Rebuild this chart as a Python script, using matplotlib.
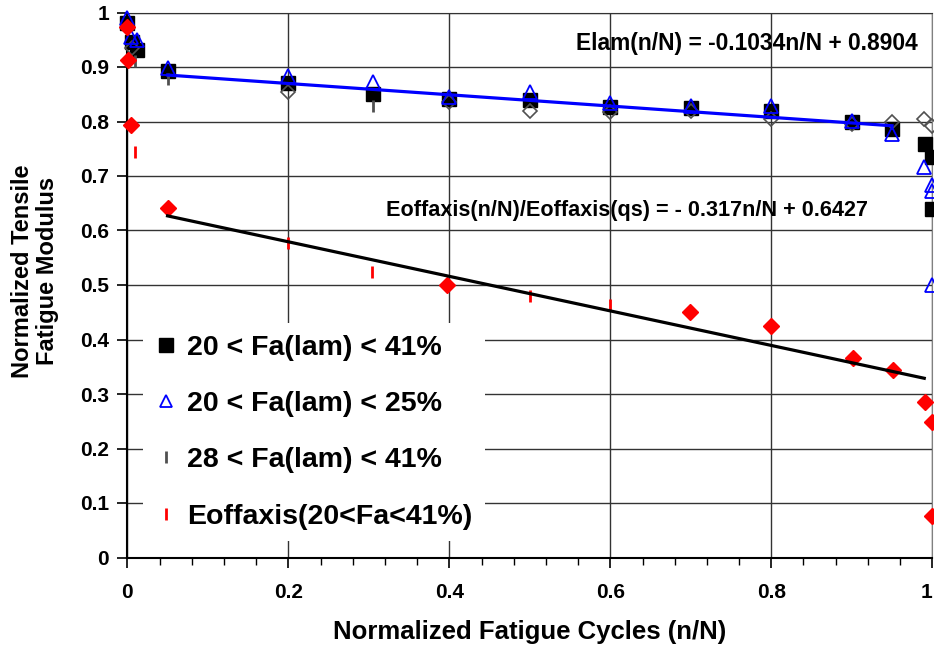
import matplotlib
matplotlib.use('Agg')
import matplotlib.pyplot as plt
import numpy as np
from matplotlib.ticker import MultipleLocator
from matplotlib.transforms import offset_copy

plt.rcParams['font.family'] = ['Liberation Sans', 'DejaVu Sans']
plt.rcParams['font.weight'] = 'bold'

# 20 < Fa(lam) < 41%  (black squares)
sq_x = [0.0, 0.006, 0.012, 0.05, 0.2, 0.305, 0.4, 0.5, 0.6, 0.7, 0.8, 0.9, 0.95, 0.991, 1.0, 1.0]
sq_y = [0.981, 0.946, 0.931, 0.893, 0.870, 0.850, 0.841, 0.839, 0.827, 0.825, 0.819, 0.799, 0.786, 0.759, 0.735, 0.640]

# 20 < Fa(lam) < 25%  (open blue triangles)
tri_x = [0.0, 0.005, 0.012, 0.05, 0.2, 0.305, 0.4, 0.5, 0.6, 0.7, 0.8, 0.9, 0.95, 0.99, 1.0, 1.0, 1.0]
tri_y = [0.99, 0.955, 0.95, 0.898, 0.883, 0.872, 0.845, 0.854, 0.834, 0.829, 0.829, 0.801, 0.777, 0.717, 0.683, 0.672, 0.5]

# open gray diamonds (no legend entry)
dia_x = [0.006, 0.2, 0.4, 0.5, 0.6, 0.7, 0.8, 0.9, 0.95, 0.99, 1.0]
dia_y = [0.935, 0.855, 0.836, 0.819, 0.817, 0.82, 0.805, 0.795, 0.80, 0.805, 0.792]

# 28 < Fa(lam) < 41%  (gray bars)
gb_x = [0.01, 0.05, 0.305]
gb_y = [0.911, 0.878, 0.828]

# off-axis modulus, red diamonds (no legend entry)
rd_x = [0.0, 0.001, 0.005, 0.05, 0.397, 0.699, 0.8, 0.901, 0.951, 0.991, 1.0, 1.0]
rd_y = [0.973, 0.913, 0.794, 0.641, 0.5, 0.45, 0.425, 0.366, 0.344, 0.285, 0.249, 0.076]

# Eoffaxis(20<Fa<41%)  (red bars)
rb_x = [0.01, 0.2, 0.304, 0.5, 0.6]
rb_y = [0.744, 0.577, 0.524, 0.48, 0.463]

# linear fits: slope, intercept, x from, x to
lam_fit = (-0.1034, 0.8904, 0.05, 0.95)
off_fit = (-0.317, 0.6427, 0.05, 0.99)

fig = plt.figure(figsize=(9.34, 6.49), dpi=100)
ax = fig.add_axes([127.3 / 934, 1 - 557.5 / 649, 805 / 934, 545 / 649])

ax.plot(sq_x, sq_y, 's', color='black', ms=10, clip_on=False, zorder=3)
ax.plot(dia_x, dia_y, 'D', mfc='none', mec='#505050', ms=7, mew=1.2, clip_on=False, zorder=4)
ax.plot(tri_x, tri_y, '^', mfc='none', mec='#0000ff', ms=9.5, mew=1.3, clip_on=False, zorder=5)
ax.plot(gb_x, gb_y, '|', color='#505050', ms=9, mew=2, clip_on=False, zorder=4)
ax.plot(rd_x, rd_y, 'D', color='#ff0000', ms=8.5, clip_on=False, zorder=6)
ax.plot(rb_x, rb_y, '|', color='#ff0000', ms=9, mew=2, clip_on=False, zorder=6)

for (m, b, x0, x1), c in [(lam_fit, '#0000ff'), (off_fit, 'black')]:
    xs = np.array([x0, x1])
    ax.plot(xs, m * xs + b, color=c, lw=2.3, zorder=7)

ax.text(0.982, 0.944, 'Elam(n/N) = -0.1034n/N + 0.8904', ha='right', va='center',
        fontsize=16.4, fontweight='bold', zorder=8)
ax.text(0.92, 0.636, 'Eoffaxis(n/N)/Eoffaxis(qs) = - 0.317n/N + 0.6427', ha='right', va='center',
        fontsize=15.6, fontweight='bold', zorder=8)

ax.set_xlim(0, 1)
ax.set_ylim(0, 1)
ax.xaxis.set_major_locator(MultipleLocator(0.2))
ax.xaxis.set_minor_locator(MultipleLocator(0.04))
ax.yaxis.set_major_locator(MultipleLocator(0.1))
# the "1" at the right end is drawn separately so it stays inside the picture
ax.xaxis.set_major_formatter(plt.FuncFormatter(lambda v, p: '' if v > 0.99 else '%g' % round(v, 2)))
ax.yaxis.set_major_formatter(plt.FuncFormatter(lambda v, p: '%g' % round(v, 2)))
ax.tick_params(axis='both', which='major', direction='out', length=7, width=1.2, labelsize=15)
ax.tick_params(axis='x', which='major', pad=11)
ax.tick_params(axis='y', which='major', pad=6)
ax.tick_params(axis='x', which='minor', direction='out', length=5, width=1)
ax.text(1.0, 0, '1', ha='right', va='top', fontsize=15, fontweight='bold',
        transform=offset_copy(ax.transData, fig=fig, x=0, y=-18, units='points'))
ax.grid(True, which='major', color='#333333', lw=1)
ax.set_axisbelow(True)
for s in ['left', 'bottom']:
    ax.spines[s].set_linewidth(1.5)
ax.spines['top'].set_color('#333333')
ax.spines['right'].set_color('#808080')

fig.text(530 / 934, 1 - 632 / 649, 'Normalized Fatigue Cycles (n/N)', ha='center', va='center',
         fontsize=18.5, fontweight='bold')
fig.text(35 / 934, 1 - 271 / 649, 'Normalized Tensile\nFatigue Modulus', ha='center', va='center',
         rotation=90, fontsize=17, fontweight='bold', linespacing=1.1)

handles = [
    plt.Line2D([], [], ls='none', marker='s', color='black', ms=10),
    plt.Line2D([], [], ls='none', marker='^', mfc='none', mec='#0000ff', ms=9, mew=1.3),
    plt.Line2D([], [], ls='none', marker='|', color='#505050', ms=9, mew=2),
    plt.Line2D([], [], ls='none', marker='|', color='#ff0000', ms=9, mew=2),
]
labels = ['20 < Fa(lam) < 41%', '20 < Fa(lam) < 25%', '28 < Fa(lam) < 41%', 'Eoffaxis(20<Fa<41%)']
leg = ax.legend(handles, labels, loc='upper left', bbox_to_anchor=(143 / 934, 1 - 323 / 649),
                bbox_transform=fig.transFigure, borderaxespad=0, frameon=True, fancybox=False,
                facecolor='white', edgecolor='none', framealpha=1,
                labelspacing=1.06, handlelength=0.8, handletextpad=0.34, borderpad=0.42,
                prop={'weight': 'bold', 'size': 20.5})
leg.set_zorder(10)

fig.savefig('out.png', dpi=100)
